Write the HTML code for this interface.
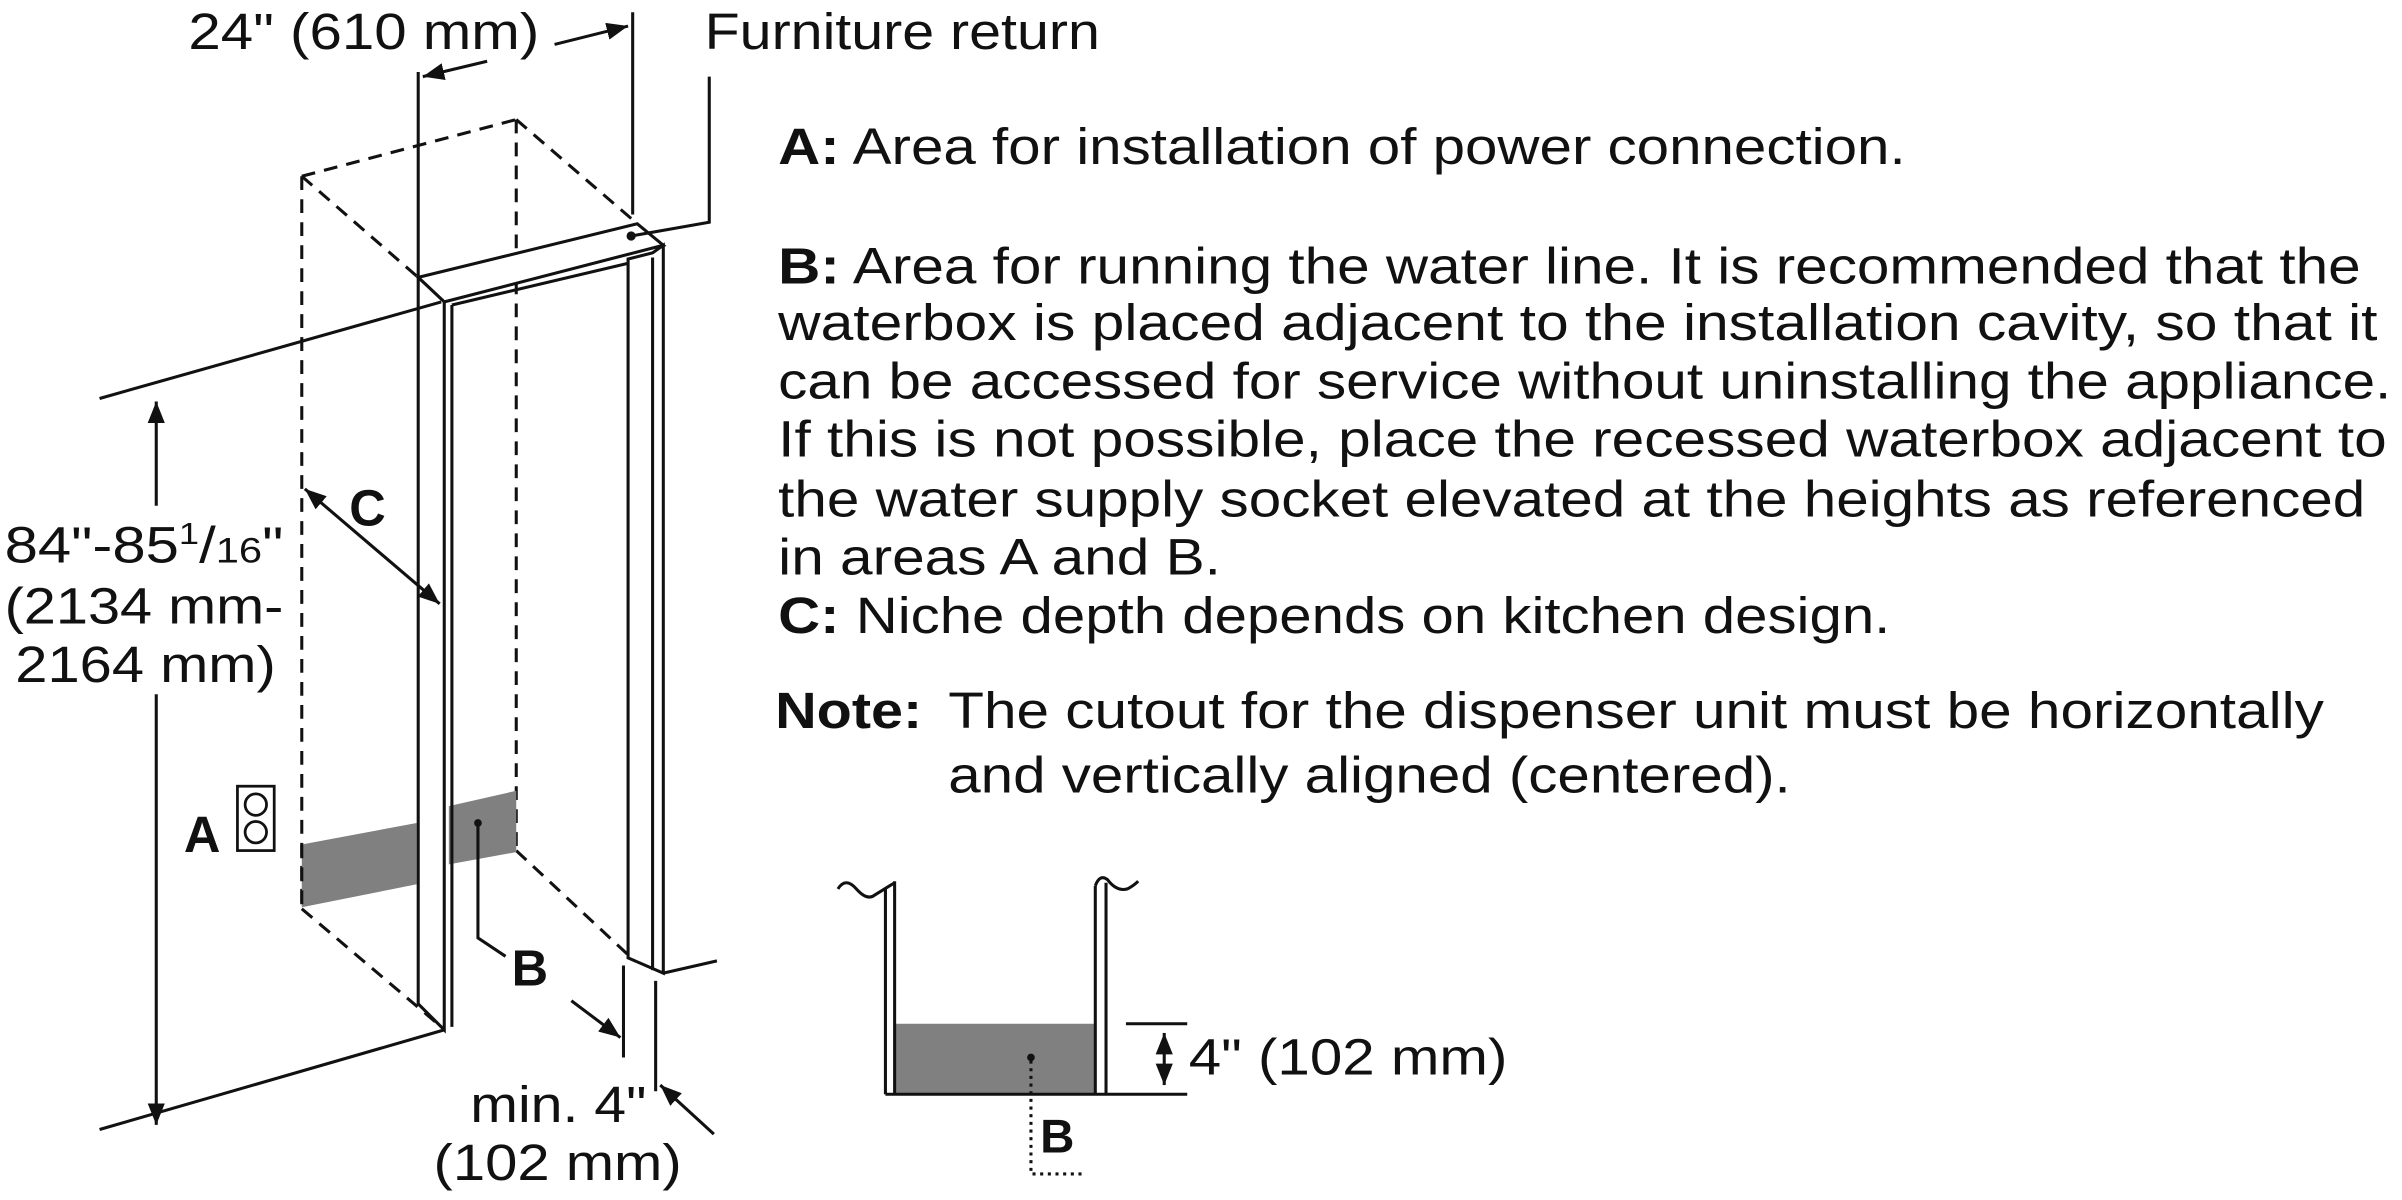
<!DOCTYPE html>
<html><head><meta charset="utf-8"><style>
html,body{margin:0;padding:0;background:#fff}
svg{display:block}
text{font-family:"Liberation Sans",Arial,sans-serif;fill:#111}
</style></head><body>
<svg width="2402" height="1200" viewBox="0 0 1568 783" preserveAspectRatio="none" xmlns="http://www.w3.org/2000/svg">
<defs>
<marker id="ah" viewBox="0 0 10 10" refX="10" refY="5" markerWidth="7" markerHeight="7" orient="auto-start-reverse"><path d="M0,1 L10,5 L0,9 z" fill="#111"/></marker>
</defs>
<g stroke="#111" stroke-width="2" fill="none">
<g stroke-dasharray="9,6">
<line x1="197" y1="115" x2="337" y2="78"/>
<line x1="197" y1="115" x2="273" y2="181"/>
<line x1="337" y1="78" x2="416" y2="146"/>
<line x1="197" y1="115" x2="197" y2="593"/>
<line x1="337" y1="78" x2="337" y2="555"/>
<line x1="197" y1="593" x2="288" y2="670"/>
<line x1="337" y1="555" x2="410" y2="623"/>
</g>
</g>
<polygon points="197,551 272,537 272,577 197,592" fill="#808080"/>
<polygon points="293,526 337,516 337,556 293,564" fill="#808080"/>
<g stroke="#111" stroke-width="2" fill="none">
<line x1="197" y1="551" x2="197" y2="593" stroke-dasharray="9,6"/>
<polygon points="273,181 416,146 433,160 290,197" fill="#fff"/>
<polygon points="273,181 290,197 290,672 273,655" fill="#fff"/>
<line x1="295" y1="199" x2="295" y2="670"/>
<line x1="295" y1="199" x2="426" y2="168"/>
<polygon points="410,169 426,165 433,160 433,635 410,625" fill="#fff"/>
<line x1="426" y1="168" x2="426" y2="633"/>
<line x1="65" y1="260" x2="288" y2="197"/>
<line x1="65" y1="737" x2="290" y2="672"/>
<line x1="433" y1="635" x2="468" y2="627"/>
<line x1="102" y1="262" x2="102" y2="330" marker-start="url(#ah)"/>
<line x1="102" y1="453" x2="102" y2="734" marker-end="url(#ah)"/>
<line x1="273" y1="47" x2="273" y2="181"/>
<line x1="413" y1="8" x2="413" y2="140"/>
<line x1="318" y1="40" x2="276" y2="50" marker-end="url(#ah)"/>
<line x1="362" y1="29" x2="410" y2="17" marker-end="url(#ah)"/>
<polyline points="463,50 463,145 412,154"/>
<line x1="199" y1="319" x2="287" y2="394" marker-start="url(#ah)" marker-end="url(#ah)"/>
<polyline points="312,537 312,612 330,624"/>
<line x1="407" y1="630" x2="407" y2="690"/>
<line x1="428" y1="640" x2="428" y2="712"/>
<line x1="373" y1="653" x2="405" y2="677" marker-end="url(#ah)"/>
<line x1="466" y1="740" x2="431" y2="708" marker-end="url(#ah)"/>
<rect x="155" y="513" width="24" height="42" stroke-width="1.8"/>
<circle cx="167" cy="525" r="7" stroke-width="1.8"/>
<circle cx="167" cy="543" r="7" stroke-width="1.8"/>
</g>
<circle cx="312" cy="537" r="2.5" fill="#111"/>
<circle cx="412" cy="154" r="3" fill="#111"/>
<g font-size="33">
<text x="123" y="32" textLength="229" lengthAdjust="spacingAndGlyphs">24" (610 mm)</text>
<text x="460" y="32" textLength="258" lengthAdjust="spacingAndGlyphs">Furniture return</text>
<text x="228" y="343" font-weight="bold">C</text>
<text x="3" y="367" textLength="182" lengthAdjust="spacingAndGlyphs">84"-85<tspan font-size="20" dy="-12">1</tspan><tspan dy="12">/</tspan><tspan font-size="23">16</tspan>"</text>
<text x="3" y="407" textLength="182" lengthAdjust="spacingAndGlyphs">(2134 mm-</text>
<text x="10" y="445" textLength="170" lengthAdjust="spacingAndGlyphs">2164 mm)</text>
<text x="120" y="556" font-weight="bold">A</text>
<text x="334" y="643" font-weight="bold">B</text>
<text x="307" y="732" textLength="115" lengthAdjust="spacingAndGlyphs">min. 4"</text>
<text x="283" y="770" textLength="162" lengthAdjust="spacingAndGlyphs">(102 mm)</text>
</g>
<g font-size="33">
<text x="508" y="107" textLength="736" lengthAdjust="spacingAndGlyphs"><tspan font-weight="bold">A:</tspan> Area for installation of power connection.</text>
<text x="508" y="185" textLength="1033" lengthAdjust="spacingAndGlyphs"><tspan font-weight="bold">B:</tspan> Area for running the water line. It is recommended that the</text>
<text x="508" y="222" textLength="1044" lengthAdjust="spacingAndGlyphs">waterbox is placed adjacent to the installation cavity, so that it</text>
<text x="508" y="260" textLength="1053" lengthAdjust="spacingAndGlyphs">can be accessed for service without uninstalling the appliance.</text>
<text x="508" y="298" textLength="1050" lengthAdjust="spacingAndGlyphs">If this is not possible, place the recessed waterbox adjacent to</text>
<text x="508" y="337" textLength="1036" lengthAdjust="spacingAndGlyphs">the water supply socket elevated at the heights as referenced</text>
<text x="508" y="375" textLength="289" lengthAdjust="spacingAndGlyphs">in areas A and B.</text>
<text x="508" y="413" textLength="726" lengthAdjust="spacingAndGlyphs"><tspan font-weight="bold">C:</tspan> Niche depth depends on kitchen design.</text>
<text x="506" y="475" font-weight="bold" textLength="96" lengthAdjust="spacingAndGlyphs">Note:</text>
<text x="619" y="475" textLength="898" lengthAdjust="spacingAndGlyphs">The cutout for the dispenser unit must be horizontally</text>
<text x="619" y="517" textLength="550" lengthAdjust="spacingAndGlyphs">and vertically aligned (centered).</text>
</g>
<rect x="584" y="668" width="131" height="46" fill="#808080"/>
<g stroke="#111" stroke-width="2" fill="none">
<path d="M547,580 q5,-8 12,0 t12,4 l13,-8"/>
<line x1="578" y1="580" x2="578" y2="714"/>
<line x1="584" y1="575" x2="584" y2="714"/>
<path d="M715,578 q3,-8 8,-4 q6,8 13,6 q4,-2 7,-5"/>
<line x1="715" y1="578" x2="715" y2="714"/>
<line x1="722" y1="576" x2="722" y2="714"/>
<line x1="578" y1="714" x2="775" y2="714"/>
<line x1="735" y1="668" x2="775" y2="668"/>
<line x1="760" y1="674" x2="760" y2="708" marker-start="url(#ah)" marker-end="url(#ah)"/>
<polyline points="673,692 673,766 708,766" stroke-dasharray="2,3"/>
</g>
<circle cx="673" cy="690" r="2.5" fill="#111"/>
<text x="776" y="701" font-size="33" textLength="208" lengthAdjust="spacingAndGlyphs">4" (102 mm)</text>
<text x="679" y="752" font-size="31" font-weight="bold">B</text>
</svg>
</body></html>
